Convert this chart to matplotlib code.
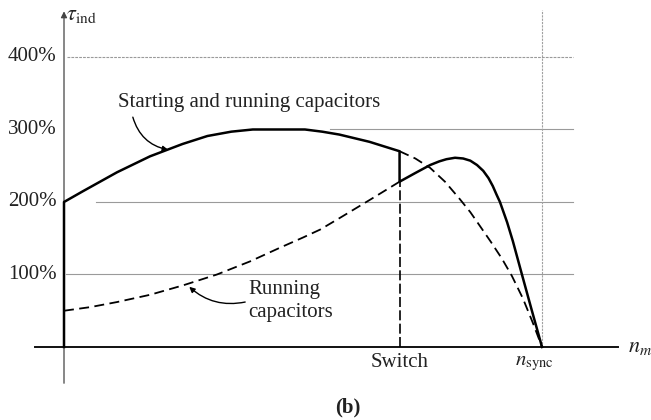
import matplotlib
matplotlib.use("Agg")
import matplotlib.pyplot as plt

# torque levels shown on the vertical axis (percent of full load)
torque_levels = [100, 200, 300, 400]
torque_labels = ["100%", "200%", "300%", "400%"]

# speed is given as a fraction of synchronous speed
switch_speed = 0.702

# starting and running capacitors together, up to the switch
start_speed = [0.0, 0.040, 0.111, 0.180, 0.248, 0.300, 0.350, 0.395, 0.450, 0.504, 0.540, 0.576, 0.639, 0.702]
start_torque = [200, 215, 241, 263, 280, 291, 297, 300, 300, 300, 297, 293, 283, 270]

# what the starting capacitor curve would do past the switch
start_tail_speed = [0.702, 0.735, 0.766, 0.797, 0.828, 0.850, 0.870, 0.893, 0.916, 0.937, 0.960, 0.981, 1.0]
start_tail_torque = [270, 260, 247, 228, 204, 186, 167, 145, 122, 98, 67, 33, 0]

# running capacitor only, below the switch speed
run_speed = [0.0, 0.055, 0.111, 0.180, 0.249, 0.320, 0.389, 0.452, 0.500, 0.536, 0.577, 0.640, 0.702]
run_torque = [50, 55, 62, 72, 85, 100, 118, 137, 151, 162, 178, 203, 228]

# running capacitor only, after the switch opens
run_after_speed = [0.702, 0.735, 0.766, 0.785, 0.800, 0.818, 0.835, 0.850, 0.864, 0.877, 0.888, 0.897,
	0.905, 0.912, 0.927, 0.939, 0.958, 0.978, 1.0]
run_after_torque = [228, 240, 251, 256, 259, 261, 260, 257, 251, 243, 233, 222, 210, 200, 172, 146, 100, 52, 0]

SERIF = ["Liberation Serif", "DejaVu Serif"]


def draw_frame(ax):
	# gridlines, each one stops a little short like on the printed chart
	grid_starts = {100: 0.004, 200: 0.067, 300: 0.556, 400: 0.006}
	for level, label in zip(torque_levels, torque_labels):
		style = (0, (2.5, 1)) if level == 400 else "-"
		ax.plot([grid_starts[level], 1.065], [level, level], color="#9a9a9a", lw=0.8, ls=style, zorder=1)
		ax.text(-0.016, level, label, ha="right", va="center", fontsize=15, family=SERIF, color="#222222")

	# synchronous speed marker
	ax.plot([1.0, 1.0], [0, 465], color="#a0a0a0", lw=0.8, ls=(0, (2, 1)), zorder=1)

	# axes with an arrow on the torque axis
	ax.plot([-0.061, 1.159], [0, 0], color="#111111", lw=1.4, zorder=2)
	ax.annotate("", xy=(0, 463), xytext=(0, -50),
		arrowprops=dict(arrowstyle="-|>", color="#444444", lw=0.9, mutation_scale=9, shrinkA=0, shrinkB=0), zorder=2)


def draw_curves(ax):
	# solid curve: both capacitors, jump at the switch, then running only
	solid_x = [0.0] + start_speed + run_after_speed
	solid_y = [0] + start_torque + run_after_torque
	ax.plot(solid_x, solid_y, color="black", lw=1.8, solid_joinstyle="round", zorder=4)

	ax.plot(run_speed, run_torque, color="black", lw=1.3, ls=(0, (5.5, 3)), zorder=3)
	ax.plot(start_tail_speed, start_tail_torque, color="black", lw=1.3, ls=(0, (5.5, 3)), zorder=3)

	# switch position
	ax.plot([switch_speed, switch_speed], [0, run_after_torque[0]], color="black", lw=1.2, ls=(0, (6, 2)), zorder=3)


def draw_labels(ax):
	ax.text(0.004, 458, r"$\tau_{\mathrm{ind}}$", ha="left", va="center", fontsize=16, color="#222222")
	ax.text(1.18, 0, r"$n_m$", ha="left", va="center", fontsize=16, color="#222222")
	ax.text(0.985, -22, r"$n_{\mathrm{sync}}$", ha="center", va="center", fontsize=15, color="#222222")
	ax.text(switch_speed, -21, "Switch", ha="center", va="center", fontsize=15, family=SERIF, color="#222222")
	ax.text(0.594, -84, "(b)", ha="center", va="center", fontsize=15, family=SERIF, weight="bold", color="#222222")

	ax.text(0.387, 337, "Starting and running capacitors", ha="center", va="center", fontsize=15, family=SERIF, color="#222222")
	ax.annotate("", xy=(0.218, 272), xytext=(0.144, 317),
		arrowprops=dict(arrowstyle="-|>", color="black", lw=1.0, mutation_scale=8,
			connectionstyle="arc3,rad=0.3", shrinkA=0, shrinkB=0))

	ax.text(0.385, 79, "Running", ha="left", va="center", fontsize=15, family=SERIF, color="#222222")
	ax.text(0.385, 47, "capacitors", ha="left", va="center", fontsize=15, family=SERIF, color="#222222")
	ax.annotate("", xy=(0.262, 83), xytext=(0.379, 62),
		arrowprops=dict(arrowstyle="-|>", color="black", lw=1.0, mutation_scale=8,
			connectionstyle="arc3,rad=-0.25", shrinkA=0, shrinkB=0))


def main() -> int:
	plt.rcParams["mathtext.fontset"] = "stix"
	fig = plt.figure(figsize=(6.51, 4.20), dpi=100)
	ax = fig.add_axes([0, 0, 1, 1])
	ax.set_xlim(-0.1339, 1.228)
	ax.set_ylim(-100.7, 478.6)
	ax.axis("off")

	draw_frame(ax)
	draw_curves(ax)
	draw_labels(ax)

	fig.savefig("out.png", dpi=100, facecolor="white")
	return 0


if __name__ == "__main__":
	raise SystemExit(main())
